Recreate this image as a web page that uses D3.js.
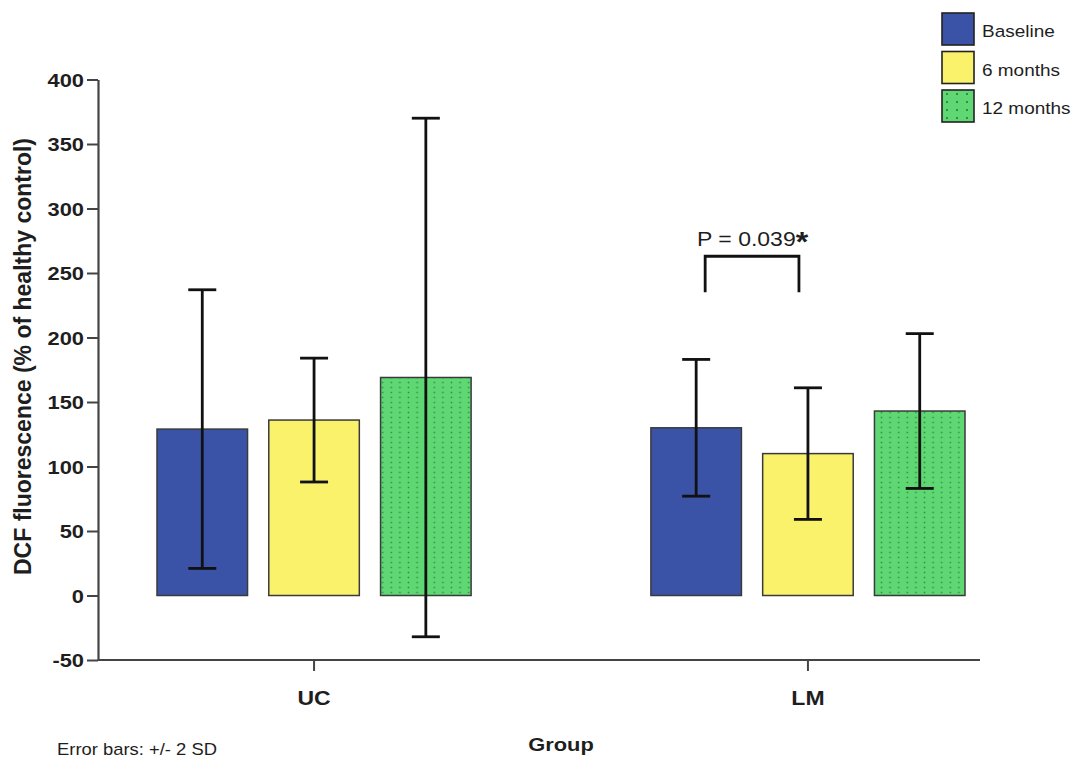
<!DOCTYPE html>
<html>
<head>
<meta charset="utf-8">
<script src="https://cdn.jsdelivr.net/npm/d3@7"></script>
<style>
  body { margin: 0; background: #fff; }
  svg { display: block; font-family: "Liberation Sans", Arial, sans-serif; }
</style>
</head>
<body>
<svg id="chart" width="1082" height="760"></svg>
<script>
// Groups and time points
const groups = ["UC", "LM"];
const timepoints = ["Baseline", "6 months", "12 months"];

// Mean DCF fluorescence (% of healthy control) per group, per time point
const meanUC = [129, 136, 169];
const meanLM = [130, 110, 143];

// Error bar half-widths (2 SD)
const twoSdUC = [108, 48, 201];
const twoSdLM = [53, 51, 60];

const yTicks = [-50, 0, 50, 100, 150, 200, 250, 300, 350, 400];

const rows = [
  ...timepoints.map((t, i) => ({ group: "UC", time: t, mean: meanUC[i], err: twoSdUC[i] })),
  ...timepoints.map((t, i) => ({ group: "LM", time: t, mean: meanLM[i], err: twoSdLM[i] }))
];

const svg = d3.select("#chart");

// plot frame
const plotL = 98, plotR = 980, plotT = 79.5, plotB = 660;
const SX = 1.15; // horizontal widening of the lettering

const y = d3.scaleLinear().domain([-50, 400]).range([plotB, plotT]);
const x0 = d3.scaleBand().domain(groups).range([157, 965]).paddingInner(0.364).paddingOuter(0);
const x1 = d3.scaleBand().domain(timepoints).range([0, x0.bandwidth()]).paddingInner(0.19).paddingOuter(0);

const fills = { "Baseline": "#3a53a6", "6 months": "#fbf26c", "12 months": "#5fd873" };

// dotted patterns for the 12-month fill
const defs = svg.append("defs");
function dotPattern(id, w, h, r) {
  const p = defs.append("pattern").attr("id", id).attr("patternUnits", "userSpaceOnUse")
    .attr("width", w).attr("height", h);
  p.append("rect").attr("width", w).attr("height", h).attr("fill", fills["12 months"]);
  p.append("rect").attr("x", w / 2 - r / 2).attr("y", h / 2 - r / 2)
    .attr("width", r).attr("height", r).attr("fill", "#2f8f43");
}
dotPattern("dots", 8.6, 5, 1.5);
dotPattern("dotsLegend", 10, 8, 2);

const fillFor = (t, legend) => t === "12 months" ? (legend ? "url(#dotsLegend)" : "url(#dots)") : fills[t];

// helper: text widened horizontally around its anchor
function label(parent, x, yy, txt, size, weight, anchor) {
  return parent.append("text")
    .attr("transform", `translate(${x},${yy}) scale(${SX},1)`)
    .attr("text-anchor", anchor || "start")
    .attr("font-size", size).attr("font-weight", weight || "normal")
    .attr("fill", "#1e1e1e").text(txt);
}

// bars
svg.append("g").selectAll("rect")
  .data(rows).join("rect")
  .attr("x", d => x0(d.group) + x1(d.time))
  .attr("width", x1.bandwidth())
  .attr("y", d => y(d.mean))
  .attr("height", d => y(0) - y(d.mean))
  .attr("fill", d => fillFor(d.time))
  .attr("stroke", "#3a3a3a").attr("stroke-width", 1.5);

// error bars
const eb = svg.append("g").attr("stroke", "#111").attr("stroke-width", 2.8);
rows.forEach(d => {
  const cx = x0(d.group) + x1(d.time) + x1.bandwidth() / 2;
  const hi = y(d.mean + d.err), lo = y(d.mean - d.err);
  eb.append("line").attr("x1", cx).attr("x2", cx).attr("y1", hi).attr("y2", lo);
  eb.append("line").attr("x1", cx - 14).attr("x2", cx + 14).attr("y1", hi).attr("y2", hi);
  eb.append("line").attr("x1", cx - 14).attr("x2", cx + 14).attr("y1", lo).attr("y2", lo);
});

// y axis (plain hyphen for negatives)
const yAxis = svg.append("g").attr("transform", `translate(${plotL},0)`)
  .call(d3.axisLeft(y).tickValues(yTicks).tickFormat(d => String(d)).tickSize(11).tickSizeOuter(0));
yAxis.select(".domain").attr("stroke", "#444").attr("stroke-width", 2.2);
yAxis.selectAll(".tick line").attr("stroke", "#444").attr("stroke-width", 2);
yAxis.selectAll(".tick text")
  .attr("x", null).attr("dy", "0.36em")
  .attr("transform", `translate(-14,0) scale(${SX},1)`)
  .attr("font-size", 19).attr("font-weight", "bold").attr("fill", "#1e1e1e")
  .attr("font-family", "Liberation Sans, Arial, sans-serif");

// x axis
const xAxis = svg.append("g").attr("transform", `translate(0,${plotB})`)
  .call(d3.axisBottom(x0).tickSize(11).tickSizeOuter(0));
xAxis.select(".domain").attr("d", `M${plotL},0H${plotR}`).attr("stroke", "#444").attr("stroke-width", 2.2);
xAxis.selectAll(".tick line").attr("stroke", "#444").attr("stroke-width", 2);
xAxis.selectAll(".tick text")
  .attr("y", null).attr("dy", null)
  .attr("transform", `translate(0,45) scale(${SX},1)`)
  .attr("font-size", 20).attr("font-weight", "bold").attr("fill", "#1e1e1e")
  .attr("font-family", "Liberation Sans, Arial, sans-serif");

// axis titles
svg.append("text")
  .attr("transform", `translate(31,${(133 + 580) / 2}) rotate(-90)`)
  .attr("text-anchor", "middle").attr("font-size", 23).attr("font-weight", "bold").attr("fill", "#1e1e1e")
  .text("DCF fluorescence (% of healthy control)");
label(svg, 561, 751, "Group", 19, "bold", "middle");
label(svg, 57, 755, "Error bars: +/- 2 SD", 16, "normal", "start");

// significance bracket between LM baseline and LM 6 months
const bx1 = x0("LM") + x1("Baseline") + x1.bandwidth() / 2 + 9;
const bx2 = x0("LM") + x1("6 months") + x1.bandwidth() / 2 - 9;
svg.append("path")
  .attr("d", `M${bx1},${y(235)}V${y(263)}H${bx2}V${y(235)}`)
  .attr("fill", "none").attr("stroke", "#111").attr("stroke-width", 2.8);
const pText = label(svg, 697, 246, "", 20, "normal", "start");
pText.append("tspan").text("P = 0.039");
pText.append("tspan").attr("font-weight", "bold").attr("font-size", 28).attr("dy", 5).text("*");

// legend
const legend = svg.append("g").attr("transform", "translate(942,13)");
const lg = legend.selectAll("g").data(timepoints).join("g")
  .attr("transform", (d, i) => `translate(0,${i * 38.5})`);
lg.append("rect").attr("width", 32).attr("height", 32)
  .attr("fill", d => fillFor(d, true)).attr("stroke", "#222").attr("stroke-width", 1.6);
lg.each(function (d) { label(d3.select(this), 40, 24, d, 16.5, "normal", "start"); });
</script>
</body>
</html>
